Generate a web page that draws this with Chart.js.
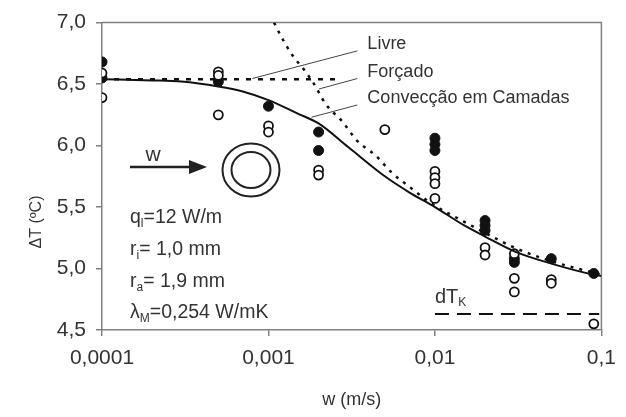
<!DOCTYPE html>
<html><head><meta charset="utf-8">
<script src="https://cdn.jsdelivr.net/npm/chart.js@4/dist/chart.umd.min.js"></script>
<style>html,body{margin:0;padding:0;background:#fff}#wrap{width:626px;height:417px}</style>
</head><body><div id="wrap"><canvas id="c" width="626" height="417"></canvas></div>
<script>
// ---- data ----
const xTickValues = [0.0001, 0.001, 0.01, 0.1];
const xTickLabels = ['0,0001', '0,001', '0,01', '0,1'];
const yTickValues = [4.5, 5.0, 5.5, 6.0, 6.5, 7.0];
const yTickLabels = ['4,5', '5,0', '5,5', '6,0', '6,5', '7,0'];
const xTitle = 'w (m/s)';
const yTitle = 'ΔT (ºC)';

const filledW = [0.0001, 0.0001, 0.0005, 0.001, 0.002, 0.002, 0.01, 0.01, 0.01, 0.02, 0.02, 0.02, 0.03, 0.03, 0.05, 0.09];
const filledT = [6.68, 6.55, 6.52, 6.32, 6.11, 5.96, 6.06, 6.01, 5.96, 5.39, 5.35, 5.31, 5.08, 5.05, 5.08, 4.96];
const openW = [0.0001, 0.0001, 0.0005, 0.0005, 0.0005, 0.001, 0.001, 0.002, 0.002, 0.005, 0.01, 0.01, 0.01, 0.01, 0.02, 0.02, 0.03, 0.03, 0.03, 0.05, 0.05, 0.09];
const openT = [6.59, 6.39, 6.60, 6.57, 6.25, 6.16, 6.11, 5.80, 5.76, 6.13, 5.79, 5.74, 5.69, 5.57, 5.17, 5.11, 5.12, 4.92, 4.81, 4.91, 4.88, 4.55];

const camadasW = [0.0001, 0.0002, 0.0003, 0.0005, 0.0007, 0.001, 0.0015, 0.002, 0.003, 0.005, 0.007, 0.01, 0.015, 0.02, 0.03, 0.05, 0.09, 0.1];
const camadasT = [6.54, 6.53, 6.52, 6.48, 6.44, 6.37, 6.26, 6.18, 5.99, 5.75, 5.62, 5.50, 5.35, 5.26, 5.14, 5.04, 4.95, 4.94];

const forcadoW = [0.00108, 0.0012, 0.0014, 0.00163, 0.00188, 0.0022, 0.0028, 0.0034, 0.0044, 0.0055, 0.0068, 0.0095, 0.015, 0.02, 0.03, 0.05, 0.1];
const forcadoT = [7.0, 6.88, 6.73, 6.62, 6.50, 6.34, 6.19, 6.04, 5.92, 5.78, 5.68, 5.53, 5.38, 5.29, 5.17, 5.06, 4.95];

const livreW = [0.0001, 0.0026];
const livreT = [6.54, 6.54];

const dTkW = [0.01, 0.097];
const dTkT = [4.63, 4.63];

const leaderLabels = ['Livre', 'Forçado', 'Convecção em Camadas'];
const leaderStartW = [0.00342, 0.00342, 0.00342];
const leaderStartT = [6.77, 6.545, 6.33];
const leaderEndW = [0.0008, 0.00201, 0.00181];
const leaderEndT = [6.545, 6.46, 6.23];

const paramLines = [
  ['q', 'l', '=12 W/m'],
  ['r', 'i', '= 1,0 mm'],
  ['r', 'a', '= 1,9 mm'],
  ['λ', 'M', '=0,254 W/mK']
];

// ---- helpers ----
const pts = (xs, ys) => xs.map((x, i) => ({x: x, y: ys[i]}));
const FONT = '"Liberation Sans", Arial, sans-serif';
const AXIS = '#808080';
const TXT = '#333';

function drawSub(ctx, base, sub, rest, x, y, size) {
  ctx.font = size + 'px ' + FONT;
  ctx.textBaseline = 'middle';
  ctx.textAlign = 'left';
  ctx.fillText(base, x, y);
  x += ctx.measureText(base).width;
  const ss = Math.round(size * 0.62);
  ctx.font = ss + 'px ' + FONT;
  ctx.fillText(sub, x, y + size * 0.3);
  x += ctx.measureText(sub).width;
  ctx.font = size + 'px ' + FONT;
  ctx.fillText(rest, x, y);
}

const leaderDatasets = leaderLabels.map((l, i) => ({
  type: 'line',
  data: [{x: leaderStartW[i], y: leaderStartT[i]}, {x: leaderEndW[i], y: leaderEndT[i]}],
  borderColor: '#444', borderWidth: 1, pointRadius: 0, fill: false, tension: 0
}));

const decor = {
  id: 'decor',
  beforeDatasetsDraw(chart) {
    const {ctx, chartArea: a} = chart;
    ctx.save();
    ctx.strokeStyle = AXIS;
    ctx.lineWidth = 1.5;
    ctx.beginPath();
    ctx.moveTo(a.left, a.top); ctx.lineTo(a.right, a.top); ctx.lineTo(a.right, a.bottom);
    ctx.stroke();
    ctx.restore();
  },
  afterDraw(chart) {
    const {ctx, chartArea: a, scales} = chart;
    const sx = scales.x, sy = scales.y;
    ctx.save();
    ctx.fillStyle = TXT;
    // y title (placed low, like the reference)
    ctx.save();
    ctx.translate(37, 222);
    ctx.rotate(-Math.PI / 2);
    ctx.font = '16px ' + FONT;
    ctx.textAlign = 'center';
    ctx.textBaseline = 'middle';
    ctx.fillText(yTitle, 0, 0);
    ctx.restore();
    // leader labels
    ctx.font = '18px ' + FONT;
    ctx.textBaseline = 'middle';
    ctx.textAlign = 'left';
    leaderLabels.forEach((l, i) => {
      const px = sx.getPixelForValue(leaderStartW[i]);
      const py = sy.getPixelForValue(leaderStartT[i]);
      ctx.fillText(l, px + 10, py - 7);
    });
    // params
    const lx = a.left + 28;
    const ly = [218, 250, 282, 313];
    paramLines.forEach((p, i) => drawSub(ctx, p[0], p[1], p[2], lx, ly[i], 19.5));
    // dT_K label
    const dkx = sx.getPixelForValue(dTkW[0]);
    const dky = sy.getPixelForValue(dTkT[0]);
    drawSub(ctx, 'dT', 'K', '', dkx, dky - 17, 20);
    // arrow + w
    ctx.strokeStyle = '#222';
    ctx.fillStyle = '#222';
    ctx.lineWidth = 2.5;
    ctx.beginPath(); ctx.moveTo(130, 167); ctx.lineTo(193, 167); ctx.stroke();
    ctx.beginPath(); ctx.moveTo(207, 167); ctx.lineTo(189, 160); ctx.lineTo(189, 174); ctx.closePath(); ctx.fill();
    ctx.fillStyle = TXT;
    ctx.font = '21px ' + FONT;
    ctx.textAlign = 'center';
    ctx.fillText('w', 153, 155);
    // tube circles
    ctx.lineWidth = 2;
    ctx.strokeStyle = '#222';
    ctx.beginPath(); ctx.ellipse(251, 170, 28.5, 26.5, 0, 0, Math.PI * 2); ctx.stroke();
    ctx.beginPath(); ctx.ellipse(251, 170, 19.5, 18, 0, 0, Math.PI * 2); ctx.stroke();
    ctx.restore();
  }
};

new Chart(document.getElementById('c'), {
  type: 'scatter',
  data: {
    datasets: [
      {type: 'line', data: pts(livreW, livreT), borderColor: '#111', borderWidth: 2.5, borderDash: [5, 7], pointRadius: 0, fill: false},
      {type: 'line', data: pts(forcadoW, forcadoT), borderColor: '#111', borderWidth: 2.5, borderDash: [3, 6], pointRadius: 0, fill: false, cubicInterpolationMode: 'monotone'},
      {type: 'line', data: pts(camadasW, camadasT), borderColor: '#111', borderWidth: 2, pointRadius: 0, fill: false, cubicInterpolationMode: 'monotone'},
      {type: 'line', data: pts(dTkW, dTkT), borderColor: '#111', borderWidth: 2, borderDash: [14, 8], pointRadius: 0, fill: false},
      ...leaderDatasets,
      {data: pts(openW, openT), pointRadius: 4.5, pointBackgroundColor: '#fff', pointBorderColor: '#111', pointBorderWidth: 1.8, showLine: false},
      {data: pts(filledW, filledT), pointRadius: 5, pointBackgroundColor: '#111', pointBorderColor: '#111', pointBorderWidth: 1, showLine: false}
    ]
  },
  options: {
    responsive: false,
    devicePixelRatio: 1,
    animation: false,
    layout: {padding: {top: 22, right: 16, left: 0, bottom: 0}},
    plugins: {legend: {display: false}, tooltip: {enabled: false}},
    scales: {
      x: {
        type: 'logarithmic', min: 0.0001, max: 0.1,
        afterBuildTicks: s => { s.ticks = xTickValues.map(v => ({value: v})); },
        afterFit: s => { s.height = 87; },
        ticks: {callback: (v, i) => xTickLabels[i], color: TXT, font: {size: 21, family: FONT}, padding: 10, maxRotation: 0, autoSkip: false},
        grid: {drawOnChartArea: false, tickLength: 6, color: AXIS, lineWidth: 1.5},
        border: {display: true, color: AXIS, width: 1.5},
        title: {display: true, text: xTitle, color: TXT, font: {size: 18, family: FONT}, padding: {top: 0, bottom: 6}}
      },
      y: {
        type: 'linear', min: 4.5, max: 7.0,
        afterBuildTicks: s => { s.ticks = yTickValues.map(v => ({value: v})); },
        afterFit: s => { s.width = 102; },
        ticks: {callback: (v, i) => yTickLabels[i], color: TXT, font: {size: 21, family: FONT}, padding: 10},
        grid: {drawOnChartArea: false, tickLength: 6, color: AXIS, lineWidth: 1.5},
        border: {display: true, color: AXIS, width: 1.5},
        title: {display: false}
      }
    }
  },
  plugins: [decor]
});
</script>
</body></html>
